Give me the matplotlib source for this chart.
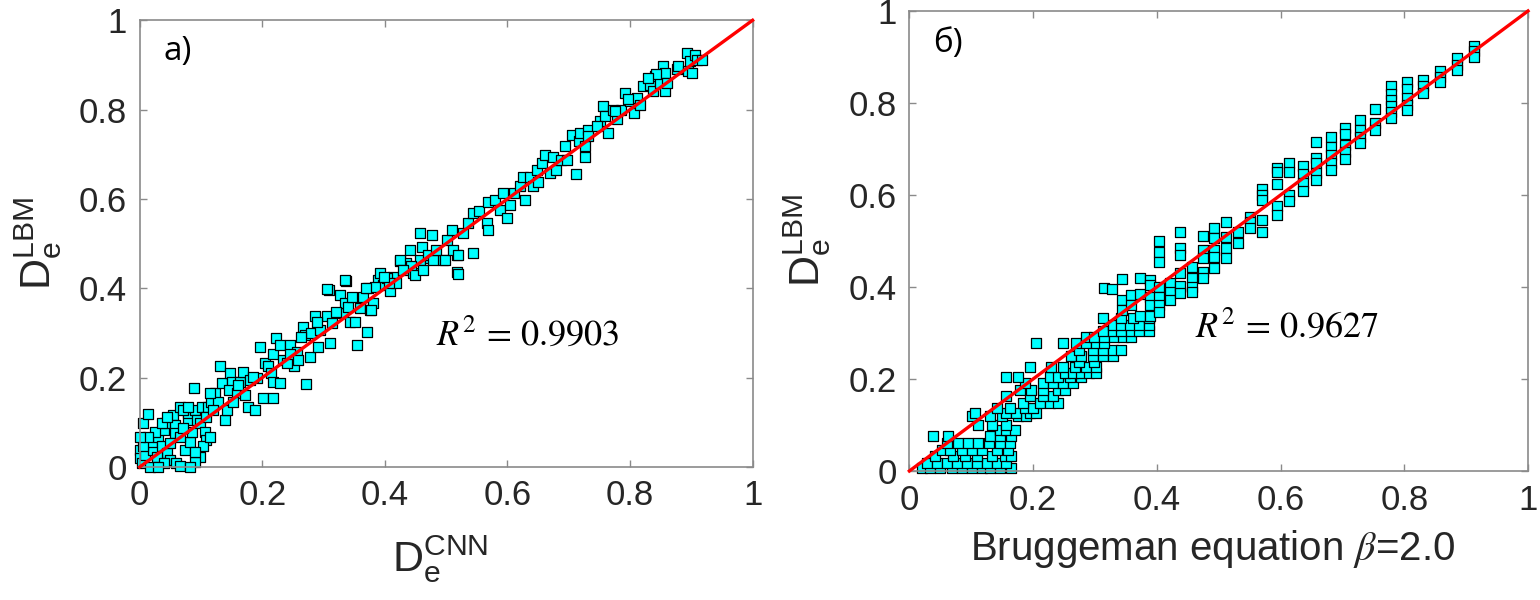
import matplotlib
matplotlib.use('Agg')
import matplotlib.pyplot as plt

# panel a): D_e from CNN vs D_e from LBM
a_cnn = [0.006, 0.013, 0.000, 0.000, 0.003, 0.017, 0.009, 0.022, 0.020, 0.030,
         0.039, 0.041, 0.055, 0.036, 0.044, 0.049, 0.060, 0.066, 0.074, 0.082,
         0.085, 0.079, 0.079, 0.090, 0.093, 0.098, 0.107, 0.109, 0.104, 0.098,
         0.090, 0.082, 0.058, 0.058, 0.066, 0.071, 0.049, 0.028, 0.025, 0.036,
         0.044, 0.066, 0.071, 0.079, 0.101, 0.112, 0.115, 0.090, 0.006, 0.014,
         0.000, 0.039, 0.030,
         0.088, 0.117, 0.123, 0.128, 0.131, 0.134, 0.139, 0.142, 0.147, 0.150,
         0.145, 0.158, 0.164, 0.169, 0.172, 0.177, 0.188, 0.191, 0.196, 0.202,
         0.204, 0.210, 0.215, 0.218, 0.218, 0.223, 0.229, 0.234, 0.245, 0.251,
         0.256, 0.267, 0.270, 0.271, 0.278, 0.280, 0.286, 0.291, 0.294, 0.305,
         0.309, 0.310, 0.313, 0.327, 0.332, 0.335, 0.336, 0.343, 0.351, 0.354,
         0.359, 0.365, 0.371, 0.373, 0.376, 0.381, 0.389, 0.392, 0.397, 0.408,
         0.413, 0.424, 0.435, 0.446, 0.457, 0.473, 0.495, 0.517, 0.517,
         0.109, 0.120, 0.115, 0.153, 0.161, 0.180, 0.185, 0.218, 0.229, 0.240,
         0.245, 0.258, 0.264, 0.289, 0.321, 0.340, 0.346, 0.384, 0.403, 0.419,
         0.443, 0.305, 0.335, 0.370, 0.378, 0.406, 0.398,
         0.425, 0.430, 0.441, 0.449, 0.457, 0.460, 0.463, 0.471, 0.477, 0.479,
         0.484, 0.498, 0.501, 0.509, 0.512, 0.520, 0.520, 0.528, 0.536, 0.544,
         0.544, 0.553, 0.566, 0.569, 0.569, 0.580, 0.588, 0.593, 0.599, 0.604,
         0.610, 0.621, 0.626, 0.628, 0.637, 0.642, 0.648, 0.650, 0.656, 0.661,
         0.669, 0.675, 0.680, 0.688, 0.694, 0.697, 0.705, 0.712, 0.716, 0.719,
         0.727, 0.727, 0.732, 0.732, 0.751, 0.756, 0.759, 0.764, 0.773, 0.778,
         0.786, 0.792, 0.800, 0.807, 0.811, 0.816, 0.822, 0.833, 0.838, 0.840,
         0.849, 0.854, 0.857, 0.857, 0.860, 0.876, 0.879, 0.893, 0.895, 0.898,
         0.906, 0.909, 0.917, 0.901, 0.843, 0.830, 0.797, 0.746, 0.776]
a_lbm = [0.098, 0.118, 0.038, 0.019, 0.008, 0.001, 0.027, 0.038, 0.057, 0.068,
         0.083, 0.098, 0.116, 0.046, 0.031, 0.016, 0.008, 0.002, 0.038, 0.057,
         0.079, 0.105, 0.120, 0.128, 0.105, 0.098, 0.079, 0.060, 0.046, 0.023,
         0.012, 0.000, 0.094, 0.075, 0.068, 0.087, 0.053, 0.023, 0.079, 0.098,
         0.113, 0.135, 0.128, 0.135, 0.135, 0.135, 0.068, 0.034, 0.046, 0.068,
         0.068, 0.008, 0.001,
         0.176, 0.146, 0.165, 0.146, 0.225, 0.187, 0.105, 0.128, 0.210, 0.191,
         0.172, 0.165, 0.191, 0.213, 0.161, 0.135, 0.128, 0.199, 0.269, 0.154,
         0.232, 0.225, 0.210, 0.154, 0.254, 0.288, 0.273, 0.240, 0.273, 0.225,
         0.258, 0.314, 0.296, 0.186, 0.247, 0.299, 0.337, 0.269, 0.307, 0.337,
         0.396, 0.277, 0.322, 0.385, 0.344, 0.366, 0.416, 0.325, 0.325, 0.273,
         0.355, 0.381, 0.303, 0.400, 0.351, 0.366, 0.419, 0.434, 0.407, 0.393,
         0.426, 0.460, 0.456, 0.434, 0.463, 0.467, 0.463, 0.437, 0.475,
         0.113, 0.128, 0.165, 0.146, 0.184, 0.195, 0.202, 0.191, 0.187, 0.232,
         0.254, 0.240, 0.292, 0.325, 0.348, 0.359, 0.381, 0.404, 0.422, 0.411,
         0.449, 0.398, 0.418, 0.400, 0.351, 0.411, 0.426,
         0.463, 0.441, 0.486, 0.430, 0.523, 0.493, 0.441, 0.475, 0.519, 0.463,
         0.486, 0.463, 0.508, 0.531, 0.486, 0.431, 0.475, 0.523, 0.546, 0.478,
         0.568, 0.572, 0.546, 0.531, 0.594, 0.598, 0.576, 0.613, 0.557, 0.587,
         0.613, 0.628, 0.650, 0.598, 0.650, 0.628, 0.665, 0.639, 0.680, 0.699,
         0.658, 0.695, 0.665, 0.688, 0.718, 0.688, 0.744, 0.656, 0.729, 0.748,
         0.695, 0.718, 0.755, 0.740, 0.774, 0.808, 0.786, 0.748, 0.800, 0.778,
         0.800, 0.838, 0.819, 0.793, 0.826, 0.811, 0.852, 0.856, 0.841, 0.875,
         0.860, 0.898, 0.883, 0.841, 0.860, 0.890, 0.898, 0.927, 0.886, 0.908,
         0.923, 0.912, 0.912, 0.883, 0.879, 0.871, 0.823, 0.763, 0.796]

# panel б): Bruggeman equation (beta = 2.0) vs LBM
b_brug = [0.020, 0.034, 0.050, 0.069, 0.085, 0.101, 0.117, 0.130, 0.146, 0.165,
          0.028, 0.045, 0.061, 0.077, 0.093, 0.109, 0.125, 0.141, 0.157,
          0.042, 0.071, 0.090, 0.109, 0.133, 0.154, 0.165,
          0.053, 0.066, 0.085, 0.101, 0.117, 0.141, 0.160,
          0.061, 0.079, 0.095, 0.111, 0.128, 0.146, 0.162,
          0.038, 0.063, 0.130, 0.146, 0.165, 0.146, 0.157, 0.170,
          0.111, 0.133, 0.157,
          0.101, 0.130, 0.149, 0.176, 0.189,
          0.106, 0.157, 0.173, 0.195, 0.205,
          0.141, 0.162, 0.187, 0.200,
          0.184, 0.211, 0.227, 0.240,
          0.157, 0.195, 0.216, 0.232,
          0.179, 0.197, 0.216, 0.240, 0.251,
          0.187, 0.216, 0.232, 0.248, 0.264,
          0.157, 0.176, 0.227, 0.240, 0.259, 0.278,
          0.251, 0.264, 0.278, 0.291, 0.302,
          0.195, 0.229, 0.248, 0.267, 0.286, 0.302,
          0.275, 0.299,
          0.262, 0.278, 0.297, 0.313, 0.329,
          0.275, 0.297, 0.313, 0.329, 0.342,
          0.204, 0.249, 0.270, 0.286, 0.302, 0.315,
          0.286, 0.299, 0.315, 0.331, 0.345, 0.358,
          0.313, 0.329, 0.342, 0.358, 0.372, 0.388,
          0.329, 0.342, 0.356, 0.372, 0.388,
          0.313, 0.342, 0.361, 0.388,
          0.315, 0.328, 0.343, 0.343, 0.343, 0.358, 0.358, 0.373, 0.373, 0.373,
          0.389, 0.389, 0.389, 0.389, 0.389, 0.404, 0.404, 0.404, 0.404, 0.404,
          0.404, 0.404, 0.422, 0.422, 0.422, 0.438, 0.438, 0.438, 0.438, 0.438,
          0.438, 0.457, 0.457, 0.457, 0.457, 0.474, 0.474, 0.474, 0.474, 0.474,
          0.493, 0.493, 0.493, 0.493, 0.493, 0.512, 0.512, 0.512, 0.512, 0.532,
          0.532, 0.551, 0.551, 0.551, 0.570, 0.570, 0.570, 0.570, 0.570, 0.594,
          0.594, 0.594, 0.594, 0.594, 0.614, 0.614, 0.614, 0.614, 0.636, 0.636,
          0.636, 0.636, 0.658, 0.658, 0.658, 0.658, 0.658, 0.682, 0.682, 0.682,
          0.682, 0.682, 0.705, 0.705, 0.705, 0.705, 0.705, 0.729, 0.729, 0.729,
          0.729, 0.753, 0.753, 0.753, 0.779, 0.779, 0.779, 0.779, 0.779, 0.779,
          0.804, 0.804, 0.804, 0.804, 0.804, 0.831, 0.831, 0.831, 0.858, 0.858,
          0.858, 0.885, 0.885, 0.885, 0.913, 0.913, 0.913]
b_lbm = [0.006, 0.006, 0.006, 0.006, 0.006, 0.006, 0.006, 0.006, 0.006, 0.006,
         0.017, 0.017, 0.017, 0.017, 0.017, 0.017, 0.017, 0.017, 0.017,
         0.032, 0.032, 0.032, 0.032, 0.032, 0.032, 0.032,
         0.046, 0.046, 0.046, 0.046, 0.046, 0.046, 0.046,
         0.061, 0.061, 0.061, 0.061, 0.061, 0.061, 0.061,
         0.077, 0.077, 0.075, 0.075, 0.075, 0.090, 0.090, 0.090,
         0.101, 0.101, 0.101,
         0.119, 0.119, 0.119, 0.119, 0.119,
         0.126, 0.126, 0.126, 0.126, 0.126,
         0.137, 0.137, 0.137, 0.137,
         0.148, 0.148, 0.148, 0.148,
         0.162, 0.162, 0.162, 0.162,
         0.177, 0.177, 0.177, 0.177, 0.177,
         0.191, 0.191, 0.191, 0.191, 0.191,
         0.204, 0.204, 0.204, 0.204, 0.204, 0.204,
         0.213, 0.213, 0.213, 0.213, 0.213,
         0.226, 0.226, 0.226, 0.226, 0.226, 0.226,
         0.238, 0.238,
         0.249, 0.249, 0.249, 0.249, 0.249,
         0.264, 0.264, 0.264, 0.264, 0.264,
         0.278, 0.278, 0.278, 0.278, 0.278, 0.278,
         0.291, 0.291, 0.291, 0.291, 0.291, 0.291,
         0.304, 0.304, 0.304, 0.304, 0.304, 0.304,
         0.318, 0.318, 0.318, 0.318, 0.318,
         0.333, 0.333, 0.333, 0.333,
         0.397, 0.395, 0.417, 0.372, 0.350, 0.383, 0.361, 0.419, 0.385, 0.337,
         0.415, 0.404, 0.379, 0.361, 0.336, 0.499, 0.475, 0.455, 0.401, 0.379,
         0.361, 0.346, 0.408, 0.390, 0.372, 0.520, 0.484, 0.470, 0.430, 0.402,
         0.386, 0.444, 0.419, 0.401, 0.390, 0.511, 0.480, 0.462, 0.433, 0.419,
         0.528, 0.506, 0.480, 0.466, 0.441, 0.542, 0.509, 0.484, 0.462, 0.520,
         0.495, 0.553, 0.542, 0.528, 0.614, 0.600, 0.589, 0.546, 0.520, 0.658,
         0.651, 0.623, 0.575, 0.557, 0.669, 0.651, 0.600, 0.586, 0.662, 0.646,
         0.625, 0.609, 0.716, 0.680, 0.669, 0.647, 0.633, 0.725, 0.705, 0.687,
         0.669, 0.654, 0.745, 0.733, 0.709, 0.694, 0.678, 0.762, 0.741, 0.727,
         0.714, 0.786, 0.756, 0.741, 0.836, 0.820, 0.807, 0.793, 0.781, 0.767,
         0.845, 0.830, 0.810, 0.796, 0.785, 0.850, 0.837, 0.821, 0.870, 0.857,
         0.846, 0.897, 0.883, 0.872, 0.924, 0.912, 0.899]

ticks = [0, 0.2, 0.4, 0.6, 0.8, 1]
tick_labels = ['0', '0.2', '0.4', '0.6', '0.8', '1']
ylabels = [r'$\mathregular{D_e^{LBM}}$', r'$\mathregular{D_e^{LBM}}$']
xlabels = [r'$\mathregular{D_e^{CNN}}$', r'Bruggeman equation $\beta$=2.0']
r2_labels = [r'$R^2\,=\,0.9903$', r'$R^2\,=\,0.9627$']
panel_tags = ['a)', 'б)']

plt.rcParams['font.family'] = ['Liberation Sans', 'DejaVu Sans']

fig = plt.figure(figsize=(15.4, 6), dpi=100)
ax1 = fig.add_axes([0.0907, 0.2217, 0.398, 0.7445])
ax2 = fig.add_axes([0.5905, 0.215, 0.4017, 0.7667])

data = [(a_cnn, a_lbm), (b_brug, b_lbm)]
r2_pos = [(0.633, 0.295), (0.611, 0.313)]

for i, ax in enumerate([ax1, ax2]):
    xs, ys = data[i]
    ax.scatter(xs, ys, s=56, marker='s', facecolor='cyan', edgecolor='black',
               linewidth=0.9, clip_on=False, zorder=2)
    ax.plot([0, 1], [0, 1], color='red', lw=2.4, zorder=3, clip_on=False)
    ax.set_xlim(0, 1)
    ax.set_ylim(0, 1)
    ax.set_xticks(ticks)
    ax.set_xticklabels(tick_labels)
    ax.set_yticks(ticks)
    ax.set_yticklabels(tick_labels)
    ax.tick_params(direction='in', top=True, right=True, length=5, width=1,
                   color='#8a8a8a', labelsize=25, labelcolor='#262626', pad=9)
    for sp in ax.spines.values():
        sp.set_color('#8a8a8a')
        sp.set_linewidth(1.2)
    ax.text(-0.165, 0.5, ylabels[i], transform=ax.transAxes, rotation=90,
            ha='center', va='center', fontsize=31, color='#262626')
    ax.text(r2_pos[i][0], r2_pos[i][1], r2_labels[i], transform=ax.transAxes,
            ha='center', va='center', fontsize=26, math_fontfamily='stix')
    ax.text(0.062, 0.93, panel_tags[i], transform=ax.transAxes, ha='center',
            va='center', fontsize=24, family=['Open Sans', 'DejaVu Sans'])

ax1.text(0.49, -0.205, xlabels[0], transform=ax1.transAxes, ha='center',
         va='center', fontsize=31, color='#262626')
# beta in a thin italic serif, like the tex symbol of the original
ax2.text(0.49, -0.17, xlabels[1], transform=ax2.transAxes, ha='center',
         va='center', fontsize=29, color='#262626', math_fontfamily='stix')

fig.savefig('out.png', dpi=100)
